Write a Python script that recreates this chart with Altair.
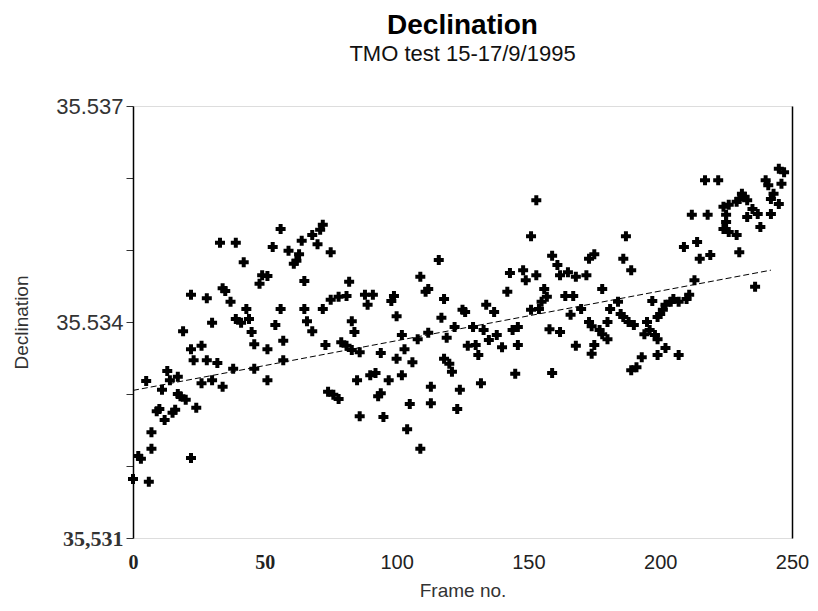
import altair as alt
import pandas as pd

# Frame number of each measurement
frame = [
    0, 6, 2, 3, 7, 7, 12, 10, 9, 16, 15, 24, 22, 17, 18, 20, 11, 5, 13, 14,
    17, 26, 30, 34, 38, 23, 28, 32, 22, 26, 19, 30, 39, 41, 44, 22, 28, 34, 35, 37,
    33, 39, 42,
    56, 72, 71, 68, 53, 64, 59, 63, 70, 75, 61, 62, 49, 48, 51, 65, 82, 75, 78, 81,
    43, 56, 65, 72, 54, 66, 68, 83, 84, 45, 46, 57, 51, 73, 79, 81, 83, 57, 46, 51,
    74, 76, 78, 85, 86,
    88, 91, 89, 99, 98, 109, 111, 112, 116, 118, 125, 126, 100, 117, 122, 129, 102, 108, 112, 119,
    127, 86, 94, 103, 100, 106, 118, 120, 121, 90, 92, 97, 102, 93, 94, 113, 124, 105, 113, 123,
    95, 104, 109,
    153, 151, 159, 161, 162, 165, 168, 172, 173, 175, 143, 148, 149, 153, 142, 156, 157, 155, 154, 151,
    164, 167, 134, 137, 170, 166, 146, 144, 133, 138, 135, 158, 162, 130, 131, 140, 146, 168, 132, 145,
    159,
    186, 189, 187, 178, 184, 181, 185, 186, 188, 190, 197, 205, 202, 201, 200, 207, 210, 204, 199, 173,
    174, 180, 177, 178, 195, 196, 198, 199, 194, 180, 175, 174, 202, 199, 207, 193, 191, 189, 213, 211,
    209, 214, 215, 212,
    245, 247, 217, 222, 240, 241, 246, 232, 230, 233, 229, 243, 242, 245, 224, 226, 235, 237, 218, 225,
    225, 242, 233, 224, 226, 229, 238, 219, 230, 236, 231,
]

# Declination value of each measurement
declination = [
    35.53182, 35.53178, 35.53214, 35.53210, 35.53224, 35.53247, 35.53264, 35.53279, 35.53276, 35.53278,
    35.53274, 35.53281, 35.53211, 35.53300, 35.53297, 35.53292, 35.53306, 35.53318, 35.53332, 35.53319,
    35.53324, 35.53315, 35.53319, 35.53310, 35.53335, 35.53347, 35.53347, 35.53343, 35.53362, 35.53367,
    35.53387, 35.53399, 35.53404, 35.53399, 35.53404, 35.53438, 35.53433, 35.53447, 35.53443, 35.53428,
    35.53510, 35.53510, 35.53483,
    35.53529, 35.53535, 35.53528, 35.53521, 35.53504, 35.53513, 35.53499, 35.53494, 35.53508, 35.53497,
    35.53481, 35.53485, 35.53465, 35.53453, 35.53464, 35.53457, 35.53456, 35.53431, 35.53435, 35.53436,
    35.53418, 35.53418, 35.53418, 35.53418, 35.53396, 35.53401, 35.53387, 35.53401, 35.53386, 35.53386,
    35.53369, 35.53374, 35.53362, 35.53368, 35.53372, 35.53367, 35.53361, 35.53347, 35.53335, 35.53319,
    35.53303, 35.53299, 35.53293, 35.53319, 35.53269,
    35.53438, 35.53438, 35.53424, 35.53436, 35.53429, 35.53463, 35.53442, 35.53446, 35.53486, 35.53432,
    35.53417, 35.53414, 35.53408, 35.53406, 35.53393, 35.53393, 35.53382, 35.53376, 35.53385, 35.53378,
    35.53367, 35.53358, 35.53357, 35.53362, 35.53349, 35.53344, 35.53349, 35.53342, 35.53331, 35.53326,
    35.53329, 35.53319, 35.53326, 35.53297, 35.53301, 35.53310, 35.53306, 35.53286, 35.53287, 35.53279,
    35.53268, 35.53251, 35.53224,
    35.53569, 35.53519, 35.53492, 35.53479, 35.53465, 35.53469, 35.53463, 35.53465, 35.53488, 35.53494,
    35.53468, 35.53472, 35.53458, 35.53465, 35.53442, 35.53446, 35.53435, 35.53428, 35.53418, 35.53417,
    35.53436, 35.53436, 35.53424, 35.53414, 35.53418, 35.53410, 35.53393, 35.53389, 35.53389, 35.53382,
    35.53375, 35.53390, 35.53386, 35.53368, 35.53354, 35.53365, 35.53368, 35.53367, 35.53315, 35.53328,
    35.53329,
    35.53488, 35.53472, 35.53519, 35.53446, 35.53428, 35.53418, 35.53411, 35.53407, 35.53400, 35.53396,
    35.53429, 35.53432, 35.53424, 35.53417, 35.53411, 35.53428, 35.53432, 35.53428, 35.53407, 35.53400,
    35.53394, 35.53400, 35.53389, 35.53383, 35.53400, 35.53389, 35.53382, 35.53376, 35.53383, 35.53376,
    35.53368, 35.53356, 35.53364, 35.53354, 35.53354, 35.53351, 35.53337, 35.53333, 35.53458, 35.53438,
    35.53504, 35.53511, 35.53488, 35.53549,
    35.53613, 35.53608, 35.53597, 35.53597, 35.53597, 35.53590, 35.53592, 35.53574, 35.53571, 35.53569,
    35.53567, 35.53578, 35.53571, 35.53564, 35.53560, 35.53563, 35.53557, 35.53550, 35.53549, 35.53549,
    35.53539, 35.53550, 35.53546, 35.53529, 35.53525, 35.53521, 35.53532, 35.53493, 35.53497, 35.53449,
    35.53578,
]

# Fitted trend line (end points)
trend_frame = [0, 242]
trend_declination = [35.53305, 35.53472]

# Axis ticks
x_ticks = [0, 50, 100, 150, 200, 250]
y_ticks = [35.531, 35.532, 35.533, 35.534, 35.535, 35.536, 35.537]

points = pd.DataFrame({"frame": frame, "decl": declination})
trend = pd.DataFrame({"frame": trend_frame, "decl": trend_declination})

x_scale = alt.Scale(domain=[0, 250], nice=False, zero=False)
y_scale = alt.Scale(domain=[35.531, 35.537], nice=False, zero=False)

y_label_expr = (
    "format(datum.value, '.3f') == '35.531' ? '35,531' : "
    "(format(datum.value, '.3f') == '35.534' || format(datum.value, '.3f') == '35.537' "
    "? format(datum.value, '.3f') : '')"
)

pts = alt.Chart(points).mark_point(
    shape="cross", filled=True, size=100, color="black", opacity=1
).encode(
    x=alt.X(
        "frame:Q",
        scale=x_scale,
        axis=alt.Axis(
            title="Frame no.",
            values=x_ticks,
            format="d",
            domain=False,
            ticks=False,
            grid=False,
            labelFontSize=20,
            labelFont={"condition": {"test": "datum.value <= 50", "value": "Liberation Serif"},
                       "value": "Liberation Sans"},
            labelFontWeight={"condition": {"test": "datum.value <= 50", "value": "bold"},
                             "value": "normal"},
            labelColor="#222222",
            labelPadding=14,
            labelFlush=False,
            titleFont="Liberation Sans",
            titleFontSize=19,
            titleFontWeight="normal",
            titleColor="#333333",
            titlePadding=9,
        ),
    ),
    y=alt.Y(
        "decl:Q",
        scale=y_scale,
        axis=alt.Axis(
            title="Declination",
            values=y_ticks,
            labelExpr=y_label_expr,
            grid=False,
            domain=True,
            domainColor="black",
            domainWidth=1.5,
            ticks=True,
            tickSize=7,
            tickColor="#333333",
            labelFontSize=22,
            labelFont={"condition": {"test": "format(datum.value, '.3f') == '35.531'",
                                     "value": "Liberation Serif"},
                       "value": "Liberation Sans"},
            labelFontWeight={"condition": {"test": "format(datum.value, '.3f') == '35.531'",
                                           "value": "bold"},
                             "value": "normal"},
            labelColor="#333333",
            labelPadding=3,
            labelFlush=False,
            titleFont="Liberation Sans",
            titleFontSize=19,
            titleFontWeight="normal",
            titleColor="#333333",
            titlePadding=24,
        ),
    ),
)

line = alt.Chart(trend).mark_line(
    color="black", strokeWidth=1, strokeDash=[6, 3]
).encode(
    x=alt.X("frame:Q", scale=x_scale),
    y=alt.Y(
        "decl:Q",
        scale=y_scale,
        axis=alt.Axis(
            orient="right", labels=False, ticks=False, title=None, grid=False,
            domain=True, domainColor="black", domainWidth=1.5,
        ),
    ),
)

chart = (
    alt.layer(pts, line)
    .resolve_axis(y="independent")
    .properties(
        width=659,
        height=432,
        autosize=alt.AutoSizeParams(type="none"),
        padding={"left": 125, "top": 98, "right": 18, "bottom": 65},
        title=alt.TitleParams(
            text="Declination",
            subtitle="TMO test 15-17/9/1995",
            font="Liberation Sans",
            fontSize=28,
            fontWeight="bold",
            color="black",
            subtitleFont="Liberation Sans",
            subtitleFontSize=22,
            subtitleColor="#111111",
            subtitlePadding=4,
            anchor="middle",
            offset=30,
        ),
    )
    .configure_view(stroke=None, strokeWidth=0, strokeOpacity=0)
    .configure_axis(grid=False)
    .configure(background="white")
)

chart.save("out.html", embed_options={"renderer": "svg", "actions": False})
